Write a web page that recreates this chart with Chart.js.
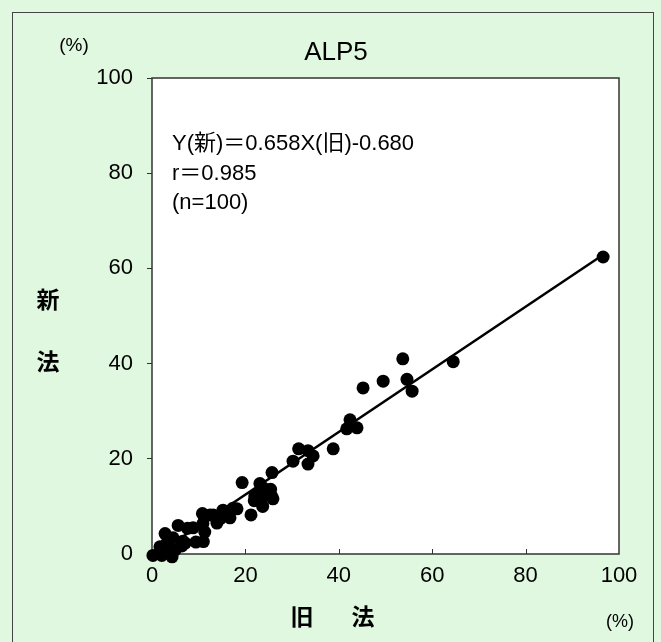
<!DOCTYPE html>
<html>
<head>
<meta charset="utf-8">
<script src="https://cdn.jsdelivr.net/npm/chart.js@4/dist/chart.umd.min.js"></script>
<style>
  html, body { margin: 0; padding: 0; background: #ffffff; }
  #wrap { position: relative; width: 661px; height: 642px; background: #e0f8e0; overflow: hidden;
          font-family: "Liberation Sans", Arial, "Noto Sans CJK JP", sans-serif; color: #000; }
  #frame { position: absolute; left: 12px; top: 12px; width: 642px; height: 640px; border: 1px solid #444; box-sizing: border-box; }
  canvas { position: absolute; left: 0; top: 0; }
  .t { position: absolute; white-space: nowrap; transform: translate(-50%, -50%); line-height: 1; }
  .l { position: absolute; white-space: nowrap; line-height: 1; transform: translateY(-50%);
       font-family: "Liberation Sans", Arial, "Noto Sans CJK JP", sans-serif; font-size: 22px; }
  .jp { font-family: "Noto Sans CJK JP", sans-serif; font-weight: bold; font-size: 23px; }
</style>
</head>
<body>
<div id="wrap">
  <div id="frame"></div>
  <canvas id="c" width="661" height="642"></canvas>
  <div class="t" style="left:74px; top:44px; font-size:19px;">(%)</div>
  <div class="t" style="left:336px; top:51px; font-size:26px;">ALP5</div>
  <div class="l" style="left:172px; top:143px;">Y(新)＝0.658X(旧)-0.680</div>
  <div class="l" style="left:172px; top:173px;">r＝0.985</div>
  <div class="l" style="left:172px; top:202px;">(n=100)</div>
  <div class="t jp" style="left:48px; top:298px;">新</div>
  <div class="t jp" style="left:48px; top:360px;">法</div>
  <div class="t jp" style="left:302px; top:615px;">旧</div>
  <div class="t jp" style="left:363px; top:615px;">法</div>
  <div class="t" style="left:620px; top:621px; font-size:18px;">(%)</div>
</div>
<script>
// Old method (旧法) values, %
const oldMethod = [96.6, 64.5, 53.7, 45.2, 49.5, 54.6, 55.7, 42.4, 41.7, 43.9,
  38.8, 33.4, 31.4, 34.5, 33.4, 30.2, 25.7, 19.3, 23.1, 25.4,
  25.6, 23.8, 22.9, 25.9, 23.5, 21.9, 23.7, 21.2, 17.3, 15.2,
  14.6, 13.9, 13.1, 12.4, 10.8, 10.9, 11.3, 11.0, 8.8, 7.6,
  5.6, 6.6, 6.4, 7.1, 4.5, 2.8, 3.2, 3.9, 4.3, 1.7,
  2.1, 0.2, 4.9, 2.4, 22.0, 9.4, 18.2, 16.7];
// New method (新法) values, %
const newMethod = [62.4, 40.4, 41.0, 34.9, 36.3, 36.7, 34.2, 28.2, 26.3, 26.5,
  22.1, 21.7, 22.1, 20.6, 18.9, 19.5, 17.1, 15.0, 14.8, 13.6,
  12.2, 13.9, 12.7, 11.6, 11.7, 11.2, 10.0, 8.2, 9.6, 9.2,
  7.4, 6.5, 8.2, 8.2, 8.5, 6.4, 4.6, 2.6, 5.5, 5.4,
  6.0, 2.7, 1.7, 2.3, 3.4, 4.3, 2.3, 1.3, -0.6, 1.5,
  -0.3, -0.3, 0.8, 0.4, 12.2, 2.5, 9.5, 7.6];
// Regression Y = 0.658X - 0.680, drawn over the range of the data
const fitCoef = [0.658, -0.680];
const fitRange = [0, 96.6];
const xTicks = [0, 20, 40, 60, 80, 100];
const yTicks = [0, 20, 40, 60, 80, 100];

const points = oldMethod.map((x, i) => ({ x: x, y: newMethod[i] }));
const fitLine = fitRange.map(x => ({ x: x, y: fitCoef[0] * x + fitCoef[1] }));

const frame = {
  id: 'frame',
  beforeDraw(chart) {
    const { ctx, chartArea: a } = chart;
    ctx.save();
    ctx.fillStyle = '#ffffff';
    ctx.fillRect(a.left, a.top, a.right - a.left, a.bottom - a.top);
    ctx.restore();
  },
  beforeDatasetsDraw(chart) {
    const { ctx, chartArea: a, scales } = chart;
    ctx.save();
    ctx.strokeStyle = '#333';
    ctx.lineWidth = 1.5;
    ctx.strokeRect(a.left, a.top, a.right - a.left, a.bottom - a.top);
    ctx.lineWidth = 1;
    ctx.beginPath();
    xTicks.slice(1, -1).forEach(v => {
      const px = Math.round(scales.x.getPixelForValue(v)) + 0.5;
      ctx.moveTo(px, a.bottom);
      ctx.lineTo(px, a.bottom - 5);
    });
    ctx.stroke();
    ctx.restore();
  }
};

new Chart(document.getElementById('c'), {
  type: 'scatter',
  data: {
    datasets: [
      { type: 'line', data: fitLine, borderColor: '#000', borderWidth: 2.5, pointRadius: 0, fill: false, order: 2 },
      { data: points, backgroundColor: '#000', borderColor: '#000', pointRadius: 6.5, pointBorderWidth: 0, clip: false, order: 1 }
    ]
  },
  options: {
    responsive: false,
    animation: false,
    devicePixelRatio: 1,
    layout: { padding: { top: 78, right: 42, left: 0, bottom: 0 } },
    plugins: { legend: { display: false }, tooltip: { enabled: false }, title: { display: false } },
    scales: {
      x: {
        type: 'linear', min: 0, max: 100,
        afterBuildTicks: s => { s.ticks = xTicks.map(v => ({ value: v })); },
        afterFit: s => { s.height = 88; },
        grid: { display: false, drawTicks: false },
        border: { display: false },
        ticks: { color: '#000', padding: 9, font: { family: '"Liberation Sans", Arial, sans-serif', size: 22 } }
      },
      y: {
        type: 'linear', min: 0, max: 100,
        afterBuildTicks: s => { s.ticks = yTicks.map(v => ({ value: v })); },
        afterFit: s => { s.width = 152; },
        grid: { drawOnChartArea: false, tickLength: 5, color: '#333' },
        border: { display: false },
        ticks: { color: '#000', padding: 14, font: { family: '"Liberation Sans", Arial, sans-serif', size: 22 } }
      }
    }
  },
  plugins: [frame]
});
</script>
</body>
</html>
